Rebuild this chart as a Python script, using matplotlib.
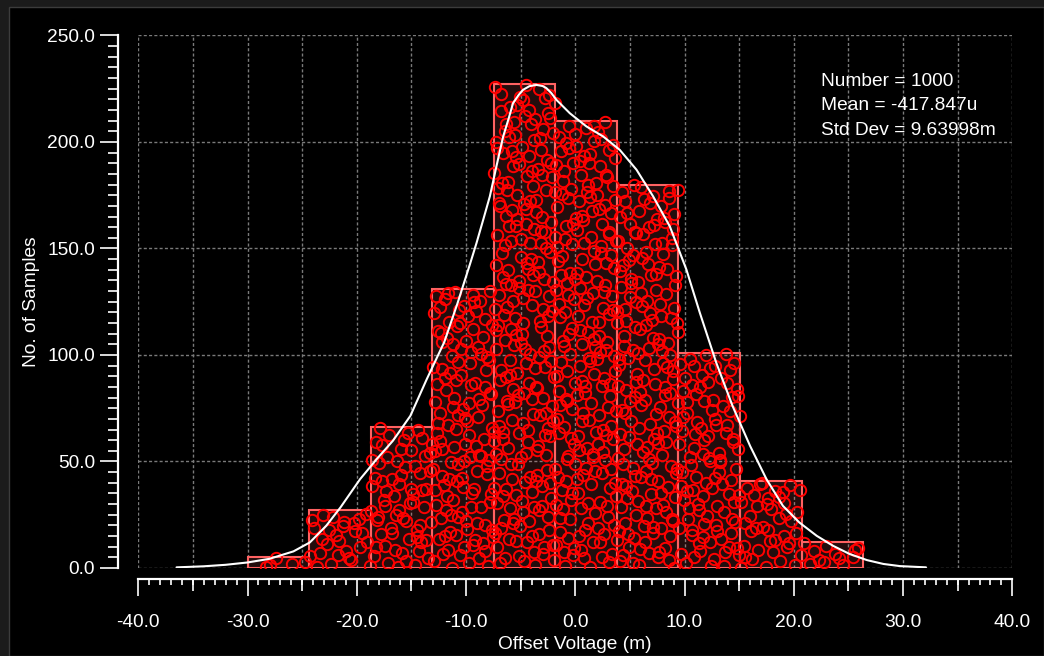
import numpy as np
import matplotlib
matplotlib.use("Agg")
import matplotlib.pyplot as plt
from matplotlib.patches import Rectangle
from matplotlib.ticker import MultipleLocator, FormatStrFormatter

# Offset voltage histogram, 10 equal bins starting at the minimum sample
bin_start = -30.0
bin_width = 5.635
bin_counts = [5, 27, 66, 131, 227, 210, 180, 101, 41, 12]

# Smoothed distribution curve, already scaled to samples per bin
curve_x = [-36.5, -34.0, -32.0, -30.0, -28.0, -25.8, -24.3, -22.8, -21.5, -19.7,
           -18.2, -16.7, -15.1, -13.6, -12.0, -10.8, -9.65, -9.04, -8.4, -7.82,
           -7.2, -6.6, -6.1, -5.7, -5.2, -4.78, -4.2, -3.56, -3.0, -2.65,
           -2.2, -1.73, -0.5, 1.02, 2.55, 4.07, 5.6, 7.12, 8.65, 10.17,
           11.4, 12.9, 14.4, 16.0, 17.5, 19.0, 20.5, 22.1, 23.6, 25.1,
           26.7, 28.2, 29.7, 32.1]
curve_y = [0.3, 0.8, 1.5, 2.6, 4.3, 7.8, 12.0, 19.8, 28.4, 41.7,
           51.0, 59.7, 71.4, 88.6, 106.0, 124.0, 142.5, 152.6, 164.0, 174.5,
           189.0, 202.6, 211.0, 218.2, 222.0, 224.5, 226.2, 226.8, 226.3, 225.3,
           223.0, 219.8, 213.5, 207.3, 202.6, 196.3, 187.0, 174.5, 160.4, 140.1,
           119.8, 96.4, 76.0, 57.3, 41.7, 29.2, 21.4, 15.1, 10.4, 6.6,
           3.7, 1.9, 0.9, 0.3]

stats_lines = ["Number = 1000", "Mean = -417.847u", "Std Dev = 9.63998m"]

x_label = "Offset Voltage (m)"
y_label = "No. of Samples"

plt.rcParams['font.family'] = ['Liberation Sans', 'DejaVu Sans']
FS = 13.8
WHITE = '#ffffff'
LEFT_OFFSET = 14.4   # points between plot area and y axis
BOTTOM_OFFSET = 7.9  # points between plot area and x axis


def halton(i, base):
    """Radical inverse of i, used to spread circles over a bar."""
    f, r = 1.0, 0.0
    while i > 0:
        f /= base
        r += f * (i % base)
        i //= base
    return r


fig = plt.figure(figsize=(10.44, 6.56), dpi=100, facecolor='#1b1b1b')
# black panel inside the thin grey frame
fig.add_artist(Rectangle((9 / 1044, 0), 1 - 9 / 1044, (656 - 7) / 656,
                         transform=fig.transFigure, facecolor='black',
                         edgecolor='#3c3c3c', lw=1, zorder=-10))

ax = fig.add_axes([0.13247, 0.13415, 0.83716, 0.81174])
ax.set_facecolor('black')
ax.set_xlim(-40, 40)
ax.set_ylim(0, 250)

# dashed grid
grid_kw = dict(color='#7a7a7a', lw=1.0, ls=(0, (2.2, 1.6)), zorder=0)
for gx in np.arange(-40, 41, 5):
    ax.axvline(gx, **grid_kw)
for gy in np.arange(0, 251, 50):
    ax.axhline(gy, **grid_kw)

# histogram bars
edges = bin_start + bin_width * np.arange(len(bin_counts))
ax.bar(edges, bin_counts, width=bin_width, align='edge',
       facecolor=(1, 0.38, 0.38, 0.14), edgecolor='#ff6262', lw=1.5, zorder=1)

# every sample as an open circle, spread over its bar
px, py = [], []
k = 0
for lo, n in zip(edges, bin_counts):
    for _ in range(n):
        k += 1
        px.append(lo + bin_width * halton(k * 7 + 3, 3))
        py.append(n * halton(k * 7 + 3, 2))
ax.plot(px, py, 'o', ms=8.2, mfc='none', mec='#ff0000', mew=1.4, zorder=2)

# distribution curve
ax.plot(curve_x, curve_y, color=WHITE, lw=1.5, zorder=3, solid_capstyle='round')

# statistics text
for i, line in enumerate(stats_lines):
    ax.text(0.781, 0.9057 - i * 0.0465, line, transform=ax.transAxes,
            color=WHITE, fontsize=FS, va='baseline', ha='left', zorder=4)

# axes styling: detached left and bottom axes
for side in ('top', 'right'):
    ax.spines[side].set_visible(False)
ax.spines['left'].set_position(('outward', LEFT_OFFSET))
ax.spines['bottom'].set_position(('outward', BOTTOM_OFFSET))
for side in ('left', 'bottom'):
    ax.spines[side].set_color(WHITE)
    ax.spines[side].set_linewidth(1.6)

ax.yaxis.set_major_locator(MultipleLocator(50))
ax.yaxis.set_minor_locator(MultipleLocator(5))
ax.xaxis.set_major_locator(MultipleLocator(10))
ax.xaxis.set_minor_locator(MultipleLocator(1))
ax.xaxis.set_major_formatter(FormatStrFormatter('%.1f'))
ax.yaxis.set_major_formatter(FormatStrFormatter('%.1f'))

ax.tick_params(axis='both', which='both', colors=WHITE, direction='out', width=1.2)
ax.tick_params(axis='y', which='major', length=13, pad=3.6, labelsize=FS)
ax.tick_params(axis='y', which='minor', length=7.5)
ax.tick_params(axis='x', which='major', length=12.2, pad=12.8, labelsize=FS)
ax.tick_params(axis='x', which='minor', length=4.3)

ax.set_xlabel(x_label, color=WHITE, fontsize=FS, labelpad=4)
ax.set_ylabel(y_label, color=WHITE, fontsize=FS, labelpad=5)

# medium ticks every 5 on the x axis
ax2 = ax.twiny()
ax2.set_xlim(-40, 40)
ax2.patch.set_visible(False)
for side in ax2.spines:
    ax2.spines[side].set_visible(False)
ax2.spines['bottom'].set_position(('outward', BOTTOM_OFFSET))
ax2.xaxis.set_ticks_position('bottom')
ax2.set_xticks(np.arange(-35, 40, 10))
ax2.tick_params(axis='x', which='major', colors=WHITE, direction='out',
                length=8.6, width=1.2, labelbottom=False, labeltop=False, top=False)
ax2.tick_params(axis='x', which='minor', bottom=False, top=False)

fig.savefig('out.png', dpi=100, facecolor=fig.get_facecolor())
